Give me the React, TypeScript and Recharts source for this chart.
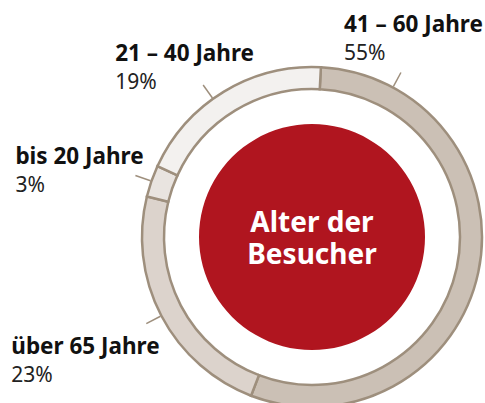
import { PieChart, Pie, Cell } from "recharts";

const groups = ["41 – 60 Jahre", "über 65 Jahre", "bis 20 Jahre", "21 – 40 Jahre"];
const shares = [55, 23, 3, 19];
const centerLines = ["Alter der", "Besucher"];

const ringColors = ["#cbc0b5", "#dcd3cc", "#e9e4e0", "#f3f1ef"];
const edgeColor = "#9e8f7d";
const red = "#b0151f";

// where each label sits: tick angle (null = segment middle) and text offset from tick end
const labelLayout = [
  { angle: 61.6, dx: -57, dy: -41 },
  { angle: null, dx: -135, dy: 30 },
  { angle: null, dx: -120, dy: -12 },
  { angle: 125.6, dx: -88, dy: -24 },
];

const ringData = groups.map((name, i) => ({ name, value: shares[i] }));
const centerData = [{ name: centerLines.join(" "), value: 1 }];

const RAD = Math.PI / 180;
const FONT = "'Noto Sans', sans-serif";

const renderLabel = (props: any) => {
  const { cx, cy, outerRadius, midAngle, index } = props;
  const lay = labelLayout[index];
  const a = (lay.angle ?? midAngle) * RAD;
  const x1 = cx + (outerRadius + 1) * Math.cos(a);
  const y1 = cy - (outerRadius + 1) * Math.sin(a);
  const x2 = cx + (outerRadius + 17) * Math.cos(a);
  const y2 = cy - (outerRadius + 17) * Math.sin(a);
  const tx = x2 + lay.dx;
  const ty = y2 + lay.dy;
  return (
    <g key={`lbl-${index}`}>
      <line x1={x1} y1={y1} x2={x2} y2={y2} stroke={edgeColor} strokeWidth={1.5} />
      <text x={tx} y={ty} fontFamily={FONT} fontWeight={700} fontSize={22.5} fill="#111">
        {groups[index]}
      </text>
      <text x={tx} y={ty + 28} fontFamily={FONT} fontSize={21} fill="#222">
        {shares[index]}%
      </text>
    </g>
  );
};

const renderCenter = (props: any) => {
  const { cx, cy } = props;
  return (
    <g key="center">
      {centerLines.map((line, i) => (
        <text
          key={line}
          x={cx}
          y={cy - 5 + i * 32}
          textAnchor="middle"
          fontFamily={FONT}
          fontWeight={700}
          fontSize={28}
          fill="#fff"
        >
          {line}
        </text>
      ))}
    </g>
  );
};

export default function App() {
  return (
    <div style={{ position: "absolute", left: 0, top: 0 }}>
      <PieChart width={485} height={403} margin={{ top: 0, right: 0, bottom: 0, left: 0 }}>
        <Pie
          data={centerData}
          dataKey="value"
          cx={312}
          cy={237}
          innerRadius={0}
          outerRadius={113}
          fill={red}
          stroke="none"
          label={renderCenter}
          labelLine={false}
          isAnimationActive={false}
        />
        <Pie
          data={ringData}
          dataKey="value"
          cx={312}
          cy={237}
          innerRadius={148}
          outerRadius={170}
          startAngle={87}
          endAngle={-273}
          stroke={edgeColor}
          strokeWidth={2.5}
          label={renderLabel}
          labelLine={false}
          isAnimationActive={false}
        >
          {ringData.map((d, i) => (
            <Cell key={d.name} fill={ringColors[i]} />
          ))}
        </Pie>
      </PieChart>
    </div>
  );
}
